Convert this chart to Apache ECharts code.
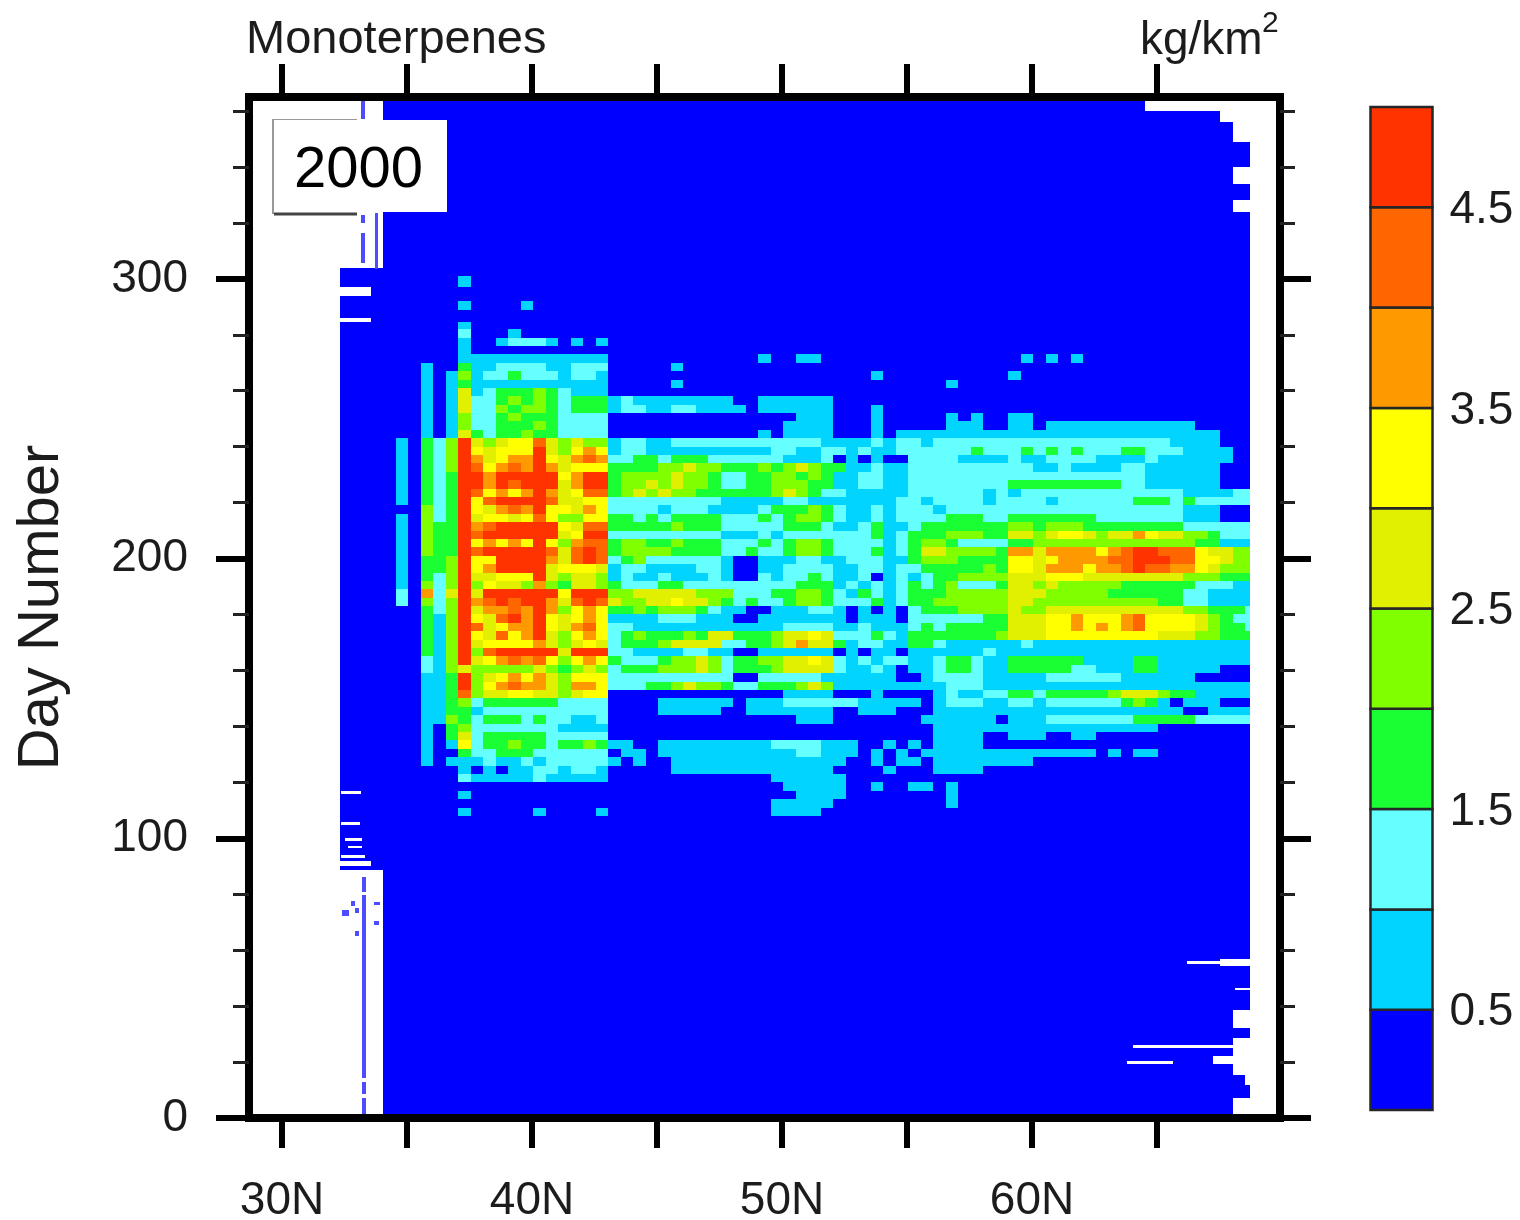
<!DOCTYPE html>
<html><head><meta charset="utf-8">
<style>html,body{margin:0;padding:0;background:#fff}#c{width:1520px;height:1220px;filter:blur(0.7px)}</style>
<script src="https://cdn.jsdelivr.net/npm/echarts@6/dist/echarts.min.js"></script>
</head><body><div id="c"></div>
<script>
// Contour classes 0..9 (0.5 wide each), '.' = no data. Columns run 0.5 degree from latStart.
const latStart = 32.04, latStep = 0.5, latMin = 32.32, latMax = 68.72;
const levelEdges = [0,0.5,1,1.5,2,2.5,3,3.5,4,4.5,5];
const levelColors = ['#0000ff','#00d4ff','#66ffff','#1aff33','#80ff00','#e0f000','#ffff00','#ff9900','#ff6600','#ff3300'];
const xTicks = [30,35,40,45,50,55,60,65];
const xLabels = [30,40,50,60];
const yMajor = [0,100,200,300];
const yMinor = [20,40,60,80,120,140,160,180,220,240,260,280,320,340,360];
const barLabels = [0.5,1.5,2.5,3.5,4.5];
const dayEdges = [365,360,356,349,340,334,328,324,304,301,297,294,292,289,286,284.5,282,279,276,273,270,267,264,261,258,255,252,249,246,
 243,240,237,234,231,228,225,222,219,216,213,210,207,204,201,198,195,192,189,186,183,180,177,174,171,168,165,162,159,156,153,150,147,144,141,138,135,132,129,126,123,120,117,114,111,108,
 92,90,88.5,57,54.3,38.6,32,28.6,15.4,11.8,7,0];
const gridRows = [
"....000000 0000000000 0000000000 0000000000 0000000000 0000000000 00000..... ....",
"....000000 0000000000 0000000000 0000000000 0000000000 0000000000 0000000000 0...",
"....000000 0000000000 0000000000 0000000000 0000000000 0000000000 0000000000 00..",
"....000000 0000000000 0000000000 0000000000 0000000000 0000000000 0000000000 0000",
"....000000 0000000000 0000000000 0000000000 0000000000 0000000000 0000000000 00..",
"....000000 0000000000 0000000000 0000000000 0000000000 0000000000 0000000000 0000",
"....000000 0000000000 0000000000 0000000000 0000000000 0000000000 0000000000 00..",
"....000000 0000000000 0000000000 0000000000 0000000000 0000000000 0000000000 0000",
"0000000000 0000000000 0000000000 0000000000 0000000000 0000000000 0000000000 0000",
"0000000000 1000000000 0000000000 0000000000 0000000000 0000000000 0000000000 0000",
"...0000000 0000000000 0000000000 0000000000 0000000000 0000000000 0000000000 0000",
"0000000000 0000000000 0000000000 0000000000 0000000000 0000000000 0000000000 0000",
"0000000000 1000010000 0000000000 0000000000 0000000000 0000000000 0000000000 0000",
"0000000000 0000000000 0000000000 0000000000 0000000000 0000000000 0000000000 0000",
"...0000000 0000000000 0000000000 0000000000 0000000000 0000000000 0000000000 0000",
"0000000000 1000000000 0000000000 0000000000 0000000000 0000000000 0000000000 0000",
"0000000000 2000100000 0000000000 0000000000 0000000000 0000000000 0000000000 0000",
"0000000000 1001222101 0100000000 0000000000 0000000000 0000000000 0000000000 0000",
"0000000000 1000000000 0000000000 0000000000 0000000000 0000000000 0000000000 0000",
// d273
"0000000000 1111111111 1100000000 0000100110 0000000000 0000010101 0000000000 0000",
"0000000100 3112222112 2200000100 0000000000 0000000000 0000000000 0000000000 0000",
"0000000101 4122322212 2100000000 0000000000 0001000000 0000100000 0000000000 0000",
"0000000101 3111111111 1100000100 0000000000 0000000001 0000000000 0000000000 0000",
"0000000101 5123334321 1100000000 0000000000 0000000000 0000000000 0000000000 0000",
"0000000101 5223434323 3312111111 1100111111 0000000000 0000000000 0000000000 0000",
"0000000101 5224344323 3312211221 1110111111 0001000000 0000000000 0000000000 0000",
"0000000101 4223433322 2200000000 0000000111 0001000001 0100110000 0000000000 0000",
"0000000101 4223334322 2200000000 0000001111 0001000001 1100110111 1111111110 0000",
"0000000101 5323343322 2200000000 0000101111 0001011111 1111111111 1111111111 1000",
// d243
"0000010324 9545668545 4412211222 2222222221 1112122122 2222222222 2222222111 1000",
"0000010324 9656669546 7612211111 1111122112 2121122222 2322232323 2223322211 1100",
"0000010324 9756779657 8722332333 2222221112 0101002222 1111211222 2111121111 1100",
"0000010324 9867879756 6633334454 4333434543 3112112222 2222221121 1112211111 1000",
"0000010323 9979999967 9934444544 3223344343 1122112222 2222222222 2222211111 1000",
"0000010323 9979899957 9934454544 3223344433 1122112222 2222333333 3332211111 1000",
"0000010323 9867679756 8834545443 3333345432 2111112222 2212122222 2222222211 1122",
"0000010323 9689999855 6622222222 2111112211 1111122122 2212222122 2222333232 2222",
"0000000423 9657879665 7622221222 1111233343 2112122212 2222222222 2222222211 1000",
"0000010423 9566568644 6633232333 3222323443 2112122223 3322333333 3222222211 1000",
"0000010433 9789999965 8833333433 3222223332 1123112333 3333443444 3333333322 2222",
"0000010433 9899999956 9922222222 2111212222 2223123334 4433554566 5455765544 3222",
"0000010433 9676769647 8834433433 3222323443 2222123443 2222334444 4444444443 3111",
"0000010433 9899999858 9834444333 3223223443 2223123554 4443775777 7678998886 5544",
"0000010334 9669999758 9823422222 2100111221 1222113444 3333665677 7788999886 6544",
"0000010334 9679999566 6512211112 2100112222 1122122333 3343665777 6778988776 5444",
"0000010324 9556669545 5412112111 2100212232 1120121233 4444555666 5555555544 4333",
"0000010424 9465547435 5432223322 2222222333 1212123234 2223554544 4443333332 2211",
"0000020725 9599999969 9944555554 4422233443 2132123334 4444555444 4433333322 1111",
"0000020424 9789899758 9854455655 4323223443 2223123344 4444554444 4444443322 1111",
"0000000324 9577879746 7633434443 2110011122 1010102333 4444544555 5555555544 3332",
"0000000314 9658979656 7611112221 1100111111 1011102222 2233555667 6667866665 4322",
"0000000314 9856779657 8622111111 1111112222 1121112323 3333555667 6767866665 4332",
"0000000314 9658679546 7623433343 5533345565 2223213333 3334555666 6666665554 4333",
"0000000314 9566667545 6523334555 5223345755 3122113321 1111121111 1111111111 1111",
"0000000314 9489999959 9922111122 1100111111 0101101111 1121111111 1111111111 1111",
"0000000214 9567878646 7632223445 4233445565 2121221123 3211333333 1111331111 1111",
"0000000214 5444445434 5423334445 4233345555 2112101123 3211333332 2111331111 1000",
"0000000113 9456767546 6622222222 2200222221 1111100122 2211111222 2221111110 0000",
"0000000113 9467877547 7622233454 4322333454 1111111112 2211111111 1111111111 1111",
"0000000113 8455665545 6600000000 0000001111 0001000012 1122332333 3345554331 1111",
"0000000113 4233333322 2200001111 1101112222 2211111012 2211221222 2223431011 1000",
"0000000113 3122222222 2200001111 1001111111 0011100011 1111111111 1111111100 1111",
"0000000114 3233323221 1200000000 0000000111 0000000111 1110111222 2222333332 2222",
"0000000103 4222222211 1100000000 0000000000 0000000011 1111111111 1111110000 0000",
"0000000103 5233333222 2200000000 0000000000 0000000011 1100111001 1000000000 0000",
"0000000101 6233433233 4311001111 1111122221 1100101011 1100000000 0000000000 0000",
"0000000100 3223332222 2201101111 1111111221 1101010111 1111111111 1010110000 0000",
"0000000101 1121121222 2210100111 1111111111 1001011011 1111110000 0000000000 0000",
"0000000000 1010112212 2100000111 1111111111 0000100011 1100000000 0000000000 0000",
"0000000000 2111112111 1100000000 0000011111 1000000000 0000000000 0000000000 0000",
"0000000000 0000000000 0000000000 0000001111 1001001101 0000000000 0000000000 0000",
"0000000000 1000000000 0000000000 0000000111 1000000001 0000000000 0000000000 0000",
"0000000000 0000000000 0000000000 0000011111 0000000001 0000000000 0000000000 0000",
"0000000000 1000001000 0100000000 0000011110 0000000000 0000000000 0000000000 0000",
// below the active region
"0000000000 0000000000 0000000000 0000000000 0000000000 0000000000 0000000000 0000",
"...0000000 0000000000 0000000000 0000000000 0000000000 0000000000 0000000000 0000",
"0000000000 0000000000 0000000000 0000000000 0000000000 0000000000 0000000000 0000",
"....000000 0000000000 0000000000 0000000000 0000000000 0000000000 0000000000 0000",
"....000000 0000000000 0000000000 0000000000 0000000000 0000000000 0000000000 0...",
"....000000 0000000000 0000000000 0000000000 0000000000 0000000000 0000000000 0000",
"....000000 0000000000 0000000000 0000000000 0000000000 0000000000 0000000000 00..",
"....000000 0000000000 0000000000 0000000000 0000000000 0000000000 0000000000 0000",
"....000000 0000000000 0000000000 0000000000 0000000000 0000000000 0000000000 00..",
"....000000 0000000000 0000000000 0000000000 0000000000 0000000000 0000000000 000.",
"....000000 0000000000 0000000000 0000000000 0000000000 0000000000 0000000000 0000",
"....000000 0000000000 0000000000 0000000000 0000000000 0000000000 0000000000 00.."
];
// Narrow data slivers and isolated pixels: [latLo, latHi, dayLo, dayHi]
const slivers = [
 [33.16,33.32,357,363.6],[33.16,33.32,320,322.9],[33.16,33.32,305.7,316.4],[33.72,33.84,303.6,323.6],
 [33.2,33.36,80.7,86],[33.2,33.36,14.3,79.6],[33.2,33.36,8.6,12.9],[33.2,33.36,0,7],
 [32.4,32.68,72.1,74.3],[32.76,32.92,75.7,77.5],[32.9,33.06,73.2,75],[32.9,33.06,65.2,67],[33.68,33.92,76,77.3],[33.68,33.88,69,70.5]
];
// Missing-data dashes inside the blue area: [latLo, latHi, dayLo, dayHi]
const gaps = [
 [32.36,33.16,115.7,116.8],[32.36,33.12,104.6,105.7],[32.52,33.2,98.9,100],[32.64,33.2,96.4,97.1],[32.36,33.32,92.9,93.9],
 [64.04,68.12,25,26.1],[63.8,65.64,19.3,20.4],[67.24,68.2,19.3,22.1],[66.2,67.76,55,56.1],[68.12,68.72,45.7,46.4]
];

const cells = [];
dayEdges.slice(0,-1).forEach((top,i)=>{
  const r = gridRows[i].replace(/ /g,'');
  for (let c=0;c<r.length;c++){
    if (r[c]==='.') continue;
    cells.push([Math.max(latStart+c*latStep,latMin),Math.min(latStart+(c+1)*latStep,latMax),dayEdges[i+1],top,levelEdges[+r[c]]+0.25]);
  }
});
function rectItem(color){
  return function(params,api){
    const a=api.coord([api.value(0),api.value(3)]), b=api.coord([api.value(1),api.value(2)]);
    const x=Math.round(a[0]), y=Math.round(a[1]);
    const fill = color || levelColors[Math.min(9,Math.floor(api.value(4)/0.5))];
    return {type:'rect',shape:{x,y,width:Math.max(1,Math.round(b[0])-x),height:Math.max(1,Math.round(b[1])-y)},style:{fill}};
  };
}
const font='"Liberation Sans",Arial,sans-serif', ink='#1c1c1c';
const bareLine={show:true,onZero:false,lineStyle:{color:'#000',width:8,cap:'square'}};
const noLine={show:false,onZero:false};
const chart=echarts.init(document.getElementById('c'),null,{renderer:'canvas'});
chart.setOption({
  animation:false,backgroundColor:'#fff',
  grid:[{left:249,top:97,width:1031,height:1021,outerBoundsMode:'none'},{left:1370.5,top:107,width:62,height:1003,outerBoundsMode:'none'}],
  xAxis:[
   {gridIndex:0,type:'value',position:'bottom',min:28.68,max:69.92,z:5,splitLine:{show:false},axisLine:bareLine,
    axisTick:{show:true,customValues:xTicks,length:30,lineStyle:{color:'#000',width:6}},
    axisLabel:{show:true,customValues:xLabels,formatter:v=>v+'N',margin:60,fontSize:46,fontFamily:font,color:ink}},
   {gridIndex:0,type:'value',position:'top',min:28.68,max:69.92,z:5,splitLine:{show:false},axisLine:bareLine,
    axisTick:{show:true,customValues:xTicks,length:33,lineStyle:{color:'#000',width:6}},axisLabel:{show:false}},
   {gridIndex:1,type:'value',min:0,max:1,show:false}
  ],
  yAxis:[
   {gridIndex:0,type:'value',position:'left',min:0,max:365,z:5,splitLine:{show:false},axisLine:bareLine,
    axisTick:{show:true,customValues:yMajor,length:33,lineStyle:{color:'#000',width:6}},
    axisLabel:{show:true,customValues:yMajor,margin:61,fontSize:46,fontFamily:font,color:ink},
    name:'Day Number',nameLocation:'middle',nameGap:178,nameTextStyle:{fontSize:58,fontFamily:font,color:ink}},
   {gridIndex:0,type:'value',position:'left',min:0,max:365,z:5,splitLine:{show:false},axisLine:noLine,
    axisTick:{show:true,customValues:yMinor,length:16,lineStyle:{color:'#222',width:3}},axisLabel:{show:false}},
   {gridIndex:0,type:'value',position:'right',min:0,max:365,z:5,splitLine:{show:false},axisLine:bareLine,
    axisTick:{show:true,customValues:yMajor,length:31,lineStyle:{color:'#000',width:6}},axisLabel:{show:false}},
   {gridIndex:0,type:'value',position:'right',min:0,max:365,z:5,splitLine:{show:false},axisLine:noLine,
    axisTick:{show:true,customValues:yMinor,length:15,lineStyle:{color:'#222',width:3}},axisLabel:{show:false}},
   {gridIndex:1,type:'value',position:'right',min:0,max:5,z:5,splitLine:{show:false},axisLine:noLine,axisTick:{show:false},
    axisLabel:{show:true,customValues:barLabels,margin:17,fontSize:46,fontFamily:font,color:ink,formatter:v=>'{a|'+v.toFixed(1)+'}',
      rich:{a:{fontSize:46,fontFamily:font,color:ink,padding:[6,0,0,0]}}}}
  ],
  series:[
   {type:'custom',xAxisIndex:0,yAxisIndex:0,silent:true,clip:false,data:cells,encode:{x:[0,1],y:[2,3]},renderItem:rectItem(null),z:2},
   {type:'custom',xAxisIndex:0,yAxisIndex:0,silent:true,clip:false,data:slivers,encode:{x:[0,1],y:[2,3]},renderItem:rectItem('#4d4dff'),z:3},
   {type:'custom',xAxisIndex:0,yAxisIndex:0,silent:true,clip:false,data:gaps,encode:{x:[0,1],y:[2,3]},renderItem:rectItem('#ffffff'),z:3},
   {type:'custom',xAxisIndex:2,yAxisIndex:4,silent:true,data:levelColors.map((c,i)=>[levelEdges[i],levelEdges[i+1]]),encode:{y:[0,1]},z:2,
    renderItem:(params,api)=>{
      const a=api.coord([0,api.value(1)]), b=api.coord([1,api.value(0)]);
      return {type:'rect',shape:{x:a[0],y:a[1],width:b[0]-a[0],height:b[1]-a[1]},
        style:{fill:levelColors[params.dataIndex],stroke:'#262626',lineWidth:2.5}};
    }}
  ],
  graphic:[
   {type:'text',z:50,left:246,top:17,style:{text:'Monoterpenes',font:'47px '+font,fill:ink}},
   {type:'text',z:50,left:1140,top:18,style:{text:'kg/km',font:'46px '+font,fill:ink}},
   {type:'text',z:50,left:1262,top:9,style:{text:'2',font:'30px '+font,fill:ink}},
   {type:'polyline',z:60,shape:{points:[[273,214],[273,120],[357,120]]},style:{stroke:'#999',lineWidth:2,fill:null}},
   {type:'polyline',z:60,shape:{points:[[274,214],[357,214]]},style:{stroke:'#444',lineWidth:3,fill:null}},
   {type:'rect',z:61,shape:{x:274,y:120,width:173,height:92},style:{fill:'#fff'}},
   {type:'text',z:62,left:294,top:142,style:{text:'2000',font:'58px '+font,fill:'#000'}}
  ]
});
</script></body></html>
